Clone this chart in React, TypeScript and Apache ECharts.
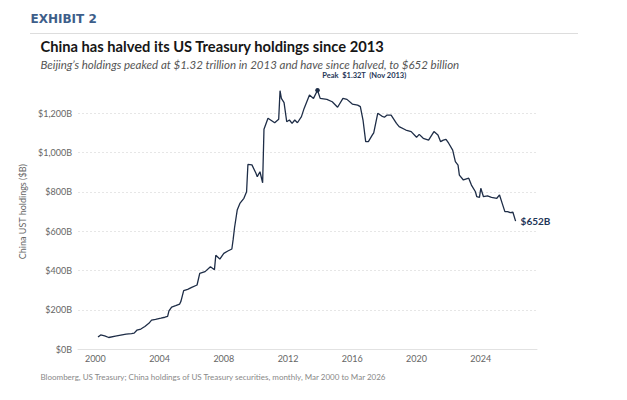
import React, { useEffect, useRef } from "react";
import * as echarts from "echarts";

const dates = [
  "2000-03","2000-05","2000-08","2000-11","2001-04","2001-08","2001-12","2002-04","2002-06","2002-08","2002-11",
  "2003-02","2003-05","2003-07","2003-10","2004-02","2004-05","2004-07","2004-08","2004-10","2005-01","2005-04",
  "2005-05","2005-07","2005-10","2006-01","2006-05","2006-07","2006-11","2007-03","2007-06","2007-07","2007-10",
  "2008-01","2008-04","2008-07","2008-08","2008-09","2008-11","2009-01","2009-04","2009-05","2009-06","2009-07",
  "2009-10","2010-01","2010-02","2010-04","2010-06","2010-07","2010-10","2011-03","2011-06","2011-07","2011-08",
  "2011-10","2011-12","2012-02","2012-04","2012-06","2012-08","2012-11","2013-01","2013-05","2013-08","2013-11",
  "2014-01","2014-06","2014-10","2015-02","2015-06","2015-09","2016-01","2016-05","2016-07","2016-09","2016-11",
  "2017-01","2017-04","2017-05","2017-08","2017-11","2018-01","2018-03","2018-06","2018-10","2018-12","2019-05",
  "2019-09","2020-01","2020-03","2020-06","2020-10","2021-02","2021-05","2021-07","2021-09","2021-11","2022-01",
  "2022-04","2022-06","2022-08","2022-09","2022-12","2023-04","2023-06","2023-09","2023-10","2023-12","2024-01",
  "2024-03","2024-06","2024-09","2025-01","2025-03","2025-05","2025-07","2025-09","2025-11","2026-01","2026-03",
];

const holdings = [
  62, 73, 68, 60, 67, 72, 77, 80, 82, 97, 103,
  116, 132, 148, 152, 158, 163, 167, 195, 215, 222, 230,
  245, 298, 305, 315, 327, 386, 395, 420, 405, 478, 459,
  488, 500, 510, 560, 618, 708, 742, 768, 785, 801, 940,
  938, 895, 878, 903, 847, 1119, 1175, 1152, 1170, 1315, 1276,
  1254, 1157, 1166, 1149, 1166, 1152, 1183, 1225, 1293, 1276, 1317,
  1276, 1271, 1259, 1231, 1276, 1271, 1247, 1242, 1234, 1166, 1056,
  1056, 1090, 1101, 1200, 1186, 1180, 1191, 1191, 1149, 1132, 1115,
  1107, 1078, 1093, 1073, 1064, 1107, 1090, 1056, 1064, 1068, 1048,
  1013, 954, 937, 886, 861, 870, 835, 801, 776, 773, 819,
  776, 780, 773, 768, 785, 742, 700, 700, 695, 697, 652,
];

const yearTicks = [2000, 2004, 2008, 2012, 2016, 2020, 2024];
const valueTicks = [0, 200, 400, 600, 800, 1000, 1200];

const peakDate = "2013-11";
const peakValue = 1317;
const peakText = "Peak  $1.32T  (Nov 2013)";
const endText = "$652B";

const titleText = "China has halved its US Treasury holdings since 2013";
const subtitleText = "Beijing\u2019s holdings peaked at $1.32 trillion in 2013 and have since halved, to $652 billion";
const footerText = "Bloomberg, US Treasury; China holdings of US Treasury securities, monthly, Mar 2000 to Mar 2026";
const exhibitText = "EXHIBIT 2";
const yName = "China UST holdings ($B)";

function toYear(d: string): number {
  const [y, m] = d.split("-").map(Number);
  return y + (m - 1) / 12;
}

const FONT = "Lato, 'Open Sans', sans-serif";

export default function App() {
  const ref = useRef<HTMLDivElement>(null);
  useEffect(() => {
    if (!ref.current) return;
    const chart = echarts.init(ref.current, null, { renderer: "svg" });
    const seriesData = dates.map((d, i) => [toYear(d), holdings[i]]);
    const option: any = {
      animation: false,
      backgroundColor: "#ffffff",
      textStyle: { fontFamily: FONT },
      grid: { left: 78, right: 90, top: 74, bottom: 50.7, containLabel: false },
      xAxis: {
        type: "value",
        min: 1998.92,
        max: 2027.5,
        axisLine: { show: true, lineStyle: { color: "#e2e2e2", width: 1 } },
        axisTick: { show: false },
        splitLine: { show: false },
        axisLabel: {
          customValues: yearTicks,
          formatter: (v: number) => String(Math.round(v)),
          color: "#666666",
          fontSize: 9,
          fontFamily: FONT,
          margin: 5,
        },
      },
      yAxis: {
        type: "value",
        min: 0,
        max: 1400,
        interval: 200,
        name: yName,
        nameLocation: "middle",
        nameGap: 44,
        nameTextStyle: { color: "#666666", fontSize: 9, fontFamily: FONT },
        axisLine: { show: false },
        axisTick: { show: false },
        axisLabel: {
          customValues: valueTicks,
          formatter: (v: number) => "$" + v.toLocaleString("en-US") + "B",
          color: "#666666",
          fontSize: 9,
          fontFamily: FONT,
          margin: 6,
        },
        splitLine: {
          show: true,
          showMinLine: false,
          showMaxLine: false,
          lineStyle: { color: "#e6e6e6", type: [2, 2], width: 1 },
        },
      },
      series: [
        {
          type: "line",
          data: seriesData,
          showSymbol: false,
          lineStyle: { color: "#1e2d47", width: 1.3 },
          endLabel: {
            show: true,
            formatter: () => endText,
            color: "#1f3658",
            fontWeight: "bold",
            fontSize: 10,
            fontFamily: FONT,
            distance: 5,
          },
          markPoint: {
            symbol: "circle",
            symbolSize: 4.5,
            itemStyle: { color: "#1e2d47" },
            data: [{ coord: [toYear(peakDate), peakValue] }],
            label: {
              show: true,
              formatter: () => peakText,
              position: [7, -12.5],
              align: "left",
              verticalAlign: "middle",
              color: "#1f3658",
              fontWeight: "bold",
              fontSize: 7.5,
              fontFamily: FONT,
            },
          },
        },
      ],
      graphic: [
        {
          type: "text",
          style: {
            text: exhibitText,
            x: 30.5,
            y: 18.5,
            verticalAlign: "middle",
            fill: "#3d5e8a",
            font: "bold 12px 'DejaVu Sans', sans-serif",
          },
        },
        {
          type: "line",
          shape: { x1: 30, y1: 33.5, x2: 578, y2: 33.5 },
          style: { stroke: "#dddddd", lineWidth: 1 },
        },
        {
          type: "text",
          style: {
            text: titleText,
            x: 40.5,
            y: 45.5,
            verticalAlign: "middle",
            fill: "#161616",
            font: "bold 14.7px " + FONT,
          },
        },
        {
          type: "text",
          style: {
            text: subtitleText,
            x: 40.5,
            y: 64.8,
            verticalAlign: "middle",
            fill: "#555555",
            font: "italic 11.5px " + FONT,
          },
        },
        {
          type: "text",
          style: {
            text: footerText,
            x: 40.5,
            y: 376.7,
            verticalAlign: "middle",
            fill: "#888888",
            font: "8px " + FONT,
          },
        },
      ],
    };
    chart.setOption(option);
    return () => chart.dispose();
  }, []);
  return (
    <div
      ref={ref}
      style={{ position: "fixed", left: 0, top: 0, width: 627, height: 400, background: "#fff" }}
    />
  );
}
